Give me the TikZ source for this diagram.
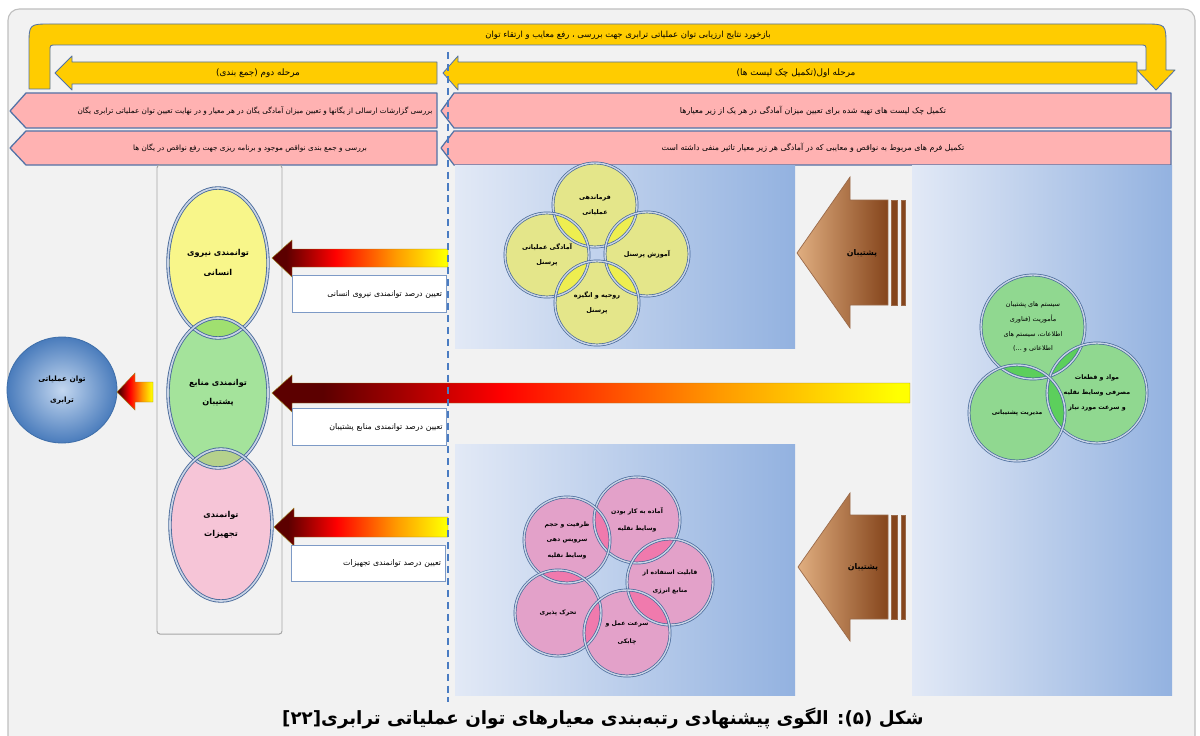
\documentclass[tikz,border=0pt]{standalone}
\usepackage{fontspec}
\newfontfamily\arabicfont[Script=Arabic]{DejaVu Sans}
\TeXXeTstate=1
\usetikzlibrary{shapes.geometric}

\definecolor{pagebg}{HTML}{F2F2F2}
\definecolor{framegray}{HTML}{BFBFBF}
\definecolor{bandyellow}{HTML}{FFCC00}
\definecolor{shapeedge}{HTML}{5272A6}
\definecolor{rowpink}{HTML}{FFB2B2}
\definecolor{panelleft}{HTML}{E2E9F6}
\definecolor{panelright}{HTML}{93B2E0}
\definecolor{dashblue}{HTML}{4A7CC2}
\definecolor{ringblue}{HTML}{466899}
\definecolor{ringgap}{HTML}{C9D4E6}
\definecolor{circyellow}{HTML}{E4E68A}
\definecolor{lensyellow}{HTML}{EEEE50}
\definecolor{circgreen}{HTML}{90D890}
\definecolor{lensgreen}{HTML}{5CCF5C}
\definecolor{circpink}{HTML}{E3A1C9}
\definecolor{lenspink}{HTML}{F07AAD}
\definecolor{elyellow}{HTML}{F8F68A}
\definecolor{elgreen}{HTML}{A4E39B}
\definecolor{elpink}{HTML}{F6C5D7}
\definecolor{lensyg}{HTML}{A0E070}
\definecolor{lensgp}{HTML}{B5D18C}
\definecolor{heatdark}{HTML}{5C0000}
\definecolor{heatred}{HTML}{FF0000}
\definecolor{heatorange}{HTML}{FF9900}
\definecolor{heatyellow}{HTML}{FFFF00}
\definecolor{heatedge}{HTML}{9C8420}
\definecolor{arrowtan}{HTML}{E0AE80}
\definecolor{arrowmid}{HTML}{B87845}
\definecolor{arrowrust}{HTML}{85451C}
\definecolor{arrowedge}{HTML}{9A6A4A}
\definecolor{boxedge}{HTML}{7D9AC6}
\definecolor{skylight}{HTML}{C3D7F0}
\definecolor{skydeep}{HTML}{4A7CBC}
\definecolor{skyedge}{HTML}{3F6FAA}
\definecolor{colgray}{HTML}{A6A6A6}

% dark red -> red -> orange -> yellow, left to right
\pgfdeclarehorizontalshading{heat}{100bp}{color(0bp)=(heatdark); color(25bp)=(heatdark); color(29bp)=(heatdark); color(43bp)=(heatred); color(60bp)=(heatorange); color(74bp)=(heatyellow); color(100bp)=(heatyellow)}

% right-to-left Persian run
\newcommand\fa[1]{\beginR#1\endR}
% fill the part of one circle lying inside another
\newcommand\lensfill[5]{\begin{scope}\clip (#1) circle[radius=#2];\fill[#5] (#3) circle[radius=#4];\end{scope}}

\begin{document}
\begin{tikzpicture}[x=0.025cm,y=-0.025cm,
  band/.style={fill=bandyellow, draw=shapeedge, line width=0.6pt, line join=round},
  row/.style={fill=rowpink, draw=shapeedge, line width=0.9pt, line join=round},
  lbl/.style={font=\arabicfont\fontsize{5.6}{7}\selectfont, inner sep=0pt},
  ring/.style={circle, draw=ringblue, line width=0.5pt, double=ringgap, double distance=1pt,
    inner sep=0pt, align=center, minimum size=2.1cm},
  smallfa/.style={font=\arabicfont\bfseries\fontsize{4.6}{10.5}\selectfont},
  pinkfa/.style={font=\arabicfont\bfseries\fontsize{4.4}{12.5}\selectfont},
  oval/.style={ellipse, draw=ringblue, line width=0.6pt, double=ringgap, double distance=1.2pt,
    inner sep=0pt, align=center, minimum width=2.5cm, minimum height=3.75cm,
    font=\arabicfont\bfseries\fontsize{5.8}{14}\selectfont},
  tbox/.style={draw=boxedge, fill=white, line width=0.6pt, minimum width=3.85cm, minimum height=0.92cm,
    text width=3.65cm, inner xsep=0.1cm, align=right, font=\arabicfont\fontsize{5.6}{7}\selectfont},
  panel/.style={left color=panelleft, right color=panelright},
  heatarrow/.style={shading=heat, draw=heatedge, line width=0.3pt},
  brownarrow/.style={left color=arrowtan, middle color=arrowmid, right color=arrowrust, draw=arrowedge, line width=0.5pt},
  stripe/.style={fill=arrowrust, draw=arrowedge, line width=0.4pt},
  dashline/.style={draw=dashblue, line width=1pt, dash pattern=on 5pt off 3.5pt}
]
\useasboundingbox (0,0) rectangle (1200,735);
\fill[white] (0,0) rectangle (1200,735);
\draw[fill=pagebg, draw=framegray, line width=0.8pt, rounded corners=8pt] (8,9) rectangle (1195,770);

% feedback band bending down on the right
\draw[band] (29,89) -- (29,46) .. controls (29,24) .. (51,24) -- (1144,24)
  .. controls (1166,24) .. (1166,46) -- (1166,70) -- (1175,70) -- (1156,90) -- (1137,70) -- (1146,70)
  -- (1146,51) .. controls (1146,45) .. (1140,45) -- (56,45) .. controls (50,45) .. (50,51) -- (50,89) -- cycle;
\node[lbl, font=\arabicfont\fontsize{6}{7}\selectfont] (feedback) at (628,35) {\fa{بازخورد نتایج ارزیابی توان عملیاتی ترابری جهت بررسی ، رفع معایب و ارتقاء توان}};

% stage arrows
\draw[band] (443,73) -- (458,56) -- (458,62) -- (1137,62) -- (1137,84) -- (458,84) -- (458,90) -- cycle;
\node[lbl, font=\arabicfont\fontsize{6.3}{7}\selectfont] (stage1) at (796,73) {\fa{مرحله اول(تکمیل چک لیست ها)}};
\draw[band] (55,73) -- (72,56) -- (72,62) -- (437,62) -- (437,84) -- (72,84) -- (72,90) -- cycle;
\node[lbl, font=\arabicfont\fontsize{6.3}{7}\selectfont] (stage2) at (258,73) {\fa{مرحله دوم (جمع بندی)}};

% task rows
\draw[row] (441,111) -- (454,93) -- (1171,93) -- (1171,128) -- (454,128) -- cycle;
\node[lbl] (task1) at (813,111) {\fa{تکمیل چک لیست های تهیه شده برای تعیین میزان آمادگی در هر یک از زیر معیارها}};
\draw[row] (441,148) -- (454,131) -- (1171,131) -- (1171,165) -- (454,165) -- cycle;
\node[lbl] (task2) at (813,148) {\fa{تکمیل فرم های مربوط به نواقص و معایبی که در آمادگی هر زیر معیار تاثیر منفی داشته است}};
\draw[row] (10,111) -- (26,93) -- (437,93) -- (437,128) -- (26,128) -- cycle;
\node[lbl, font=\arabicfont\fontsize{5.2}{7}\selectfont] (task3) at (255,111) {\fa{بررسی گزارشات ارسالی از یگانها و تعیین میزان آمادگی یگان در هر معیار و در نهایت تعیین توان عملیاتی ترابری یگان}};
\draw[row] (10,148) -- (26,131) -- (437,131) -- (437,165) -- (26,165) -- cycle;
\node[lbl, font=\arabicfont\fontsize{5.2}{7}\selectfont] (task4) at (250,148) {\fa{بررسی و جمع بندی نواقص موجود و برنامه ریزی جهت رفع نواقص در یگان ها}};

% column holding the three capability ovals
\draw[draw=colgray, line width=0.7pt, rounded corners=2pt] (157,165) rectangle (282,634);

% shaded panels
\shade[panel] (455,165) rectangle (795,348);
\shade[panel] (455,444) rectangle (795,695);
\shade[panel] (912,165) rectangle (1172,695);

% personnel circles
\coordinate (yT) at (595,205); \coordinate (yL) at (547,255);
\coordinate (yR) at (647,254); \coordinate (yB) at (597,303);
\foreach \c in {yT,yL,yR,yB} \fill[circyellow] (\c) circle[radius=42];
\lensfill{yT}{42}{yL}{42}{lensyellow}
\lensfill{yT}{42}{yR}{42}{lensyellow}
\lensfill{yB}{42}{yL}{42}{lensyellow}
\lensfill{yB}{42}{yR}{42}{lensyellow}
\node[ring, smallfa] (command) at (yT) {\fa{فرماندهی}\\\fa{عملیاتی}};
\node[ring, smallfa] (readiness) at (yL) {\fa{آمادگی عملیاتی}\\\fa{پرسنل}};
\node[ring, smallfa] (training) at (yR) {\fa{آموزش پرسنل}};
\node[ring, smallfa] (morale) at (yB) {\fa{روحیه و انگیزه}\\\fa{پرسنل}};

% equipment circles
\coordinate (pA) at (637,520); \coordinate (pB) at (567,540); \coordinate (pC) at (670,582);
\coordinate (pD) at (558,613); \coordinate (pE) at (627,633);
\foreach \c in {pA,pB,pC,pD,pE} \fill[circpink] (\c) circle[radius=43];
\lensfill{pA}{43}{pB}{43}{lenspink}
\lensfill{pA}{43}{pC}{43}{lenspink}
\lensfill{pB}{43}{pD}{43}{lenspink}
\lensfill{pC}{43}{pE}{43}{lenspink}
\lensfill{pD}{43}{pE}{43}{lenspink}
\node[ring, pinkfa, minimum size=2.15cm] (ready) at (pA) {\fa{آماده به کار بودن}\\\fa{وسایط نقلیه}};
\node[ring, minimum size=2.15cm, font=\arabicfont\bfseries\fontsize{4.4}{11}\selectfont] (capacity) at (pB) {\fa{ظرفیت و حجم}\\\fa{سرویس دهی}\\\fa{وسایط نقلیه}};
\node[ring, pinkfa, minimum size=2.15cm] (energy) at (pC) {\fa{قابلیت استفاده از}\\\fa{منابع انرژی}};
\node[ring, pinkfa, minimum size=2.15cm] (mobility) at (pD) {\fa{تحرک پذیری}};
\node[ring, pinkfa, minimum size=2.15cm] (agility) at (pE) {\fa{سرعت عمل و}\\\fa{چابکی}};

% support circles
\coordinate (gT) at (1033,327); \coordinate (gR) at (1097,393); \coordinate (gB) at (1017,413);
\fill[circgreen] (gT) circle[radius=52];
\fill[circgreen] (gR) circle[radius=50];
\fill[circgreen] (gB) circle[radius=48];
\lensfill{gT}{52}{gR}{50}{lensgreen}
\lensfill{gT}{52}{gB}{48}{lensgreen}
\lensfill{gR}{50}{gB}{48}{lensgreen}
\node[ring, minimum size=2.6cm, font=\arabicfont\fontsize{4.6}{10.5}\selectfont] (systems) at (gT) {\fa{سیستم های پشتیبان}\\\fa{مأموریت (فناوری}\\\fa{اطلاعات، سیستم های}\\\fa{اطلاعاتی و ...)}};
\node[ring, minimum size=2.5cm, font=\arabicfont\bfseries\fontsize{4.5}{10.5}\selectfont] (parts) at (gR) {\fa{مواد و قطعات}\\\fa{مصرفی وسایط نقلیه}\\\fa{و سرعت مورد نیاز}};
\node[ring, minimum size=2.4cm, font=\arabicfont\bfseries\fontsize{4.3}{10.5}\selectfont] (management) at (gB) {\fa{مدیریت پشتیبانی}};

% support arrows
\shadedraw[brownarrow] (797,253) -- (850,177) -- (850,200) -- (888,200) -- (888,305) -- (850,305) -- (850,328) -- cycle;
\draw[stripe] (891,200) rectangle (897,305);
\draw[stripe] (901,200) rectangle (905,305);
\node[lbl, font=\arabicfont\bfseries\fontsize{5.6}{6}\selectfont] (support1) at (862,253) {\fa{پشتیبان}};
\shadedraw[brownarrow] (798,567) -- (850,493) -- (850,515) -- (888,515) -- (888,619) -- (850,619) -- (850,641) -- cycle;
\draw[stripe] (891,515) rectangle (897,619);
\draw[stripe] (901,515) rectangle (905,619);
\node[lbl, font=\arabicfont\bfseries\fontsize{5.6}{6}\selectfont] (support2) at (863,567) {\fa{پشتیبان}};

% capability ovals
\fill[elyellow] (218,263) ellipse[x radius=50, y radius=75];
\fill[elgreen] (218,393) ellipse[x radius=50, y radius=75];
\fill[elpink] (221,525) ellipse[x radius=51, y radius=76];
\begin{scope}\clip (218,263) ellipse[x radius=50, y radius=75];\fill[lensyg] (218,393) ellipse[x radius=50, y radius=75];\end{scope}
\begin{scope}\clip (218,393) ellipse[x radius=50, y radius=75];\fill[lensgp] (221,525) ellipse[x radius=51, y radius=76];\end{scope}
\node[oval] (human) at (218,263) {\fa{توانمندی نیروی}\\\fa{انسانی}};
\node[oval] (resources) at (218,393) {\fa{توانمندی منابع}\\\fa{پشتیبان}};
\node[oval, minimum width=2.55cm, minimum height=3.8cm] (equipment) at (221,525) {\fa{توانمندی}\\\fa{تجهیزات}};

% heat arrows into the ovals
\shadedraw[heatarrow] (272,258) -- (292,240) -- (292,249) -- (448,249) -- (448,267) -- (292,267) -- (292,277) -- cycle;
\shadedraw[heatarrow] (272,393) -- (292,375) -- (292,383) -- (910,383) -- (910,403) -- (292,403) -- (292,412) -- cycle;
\shadedraw[heatarrow] (274,527) -- (294,508) -- (294,517) -- (448,517) -- (448,537) -- (294,537) -- (294,546) -- cycle;

% percentage boxes
\node[tbox] (pct1) at (369,294) {\fa{تعیین درصد توانمندی نیروی انسانی}};
\node[tbox] (pct2) at (369.5,427) {\fa{تعیین درصد توانمندی منابع پشتیبان}};
\node[tbox] (pct3) at (368,563.5) {\fa{تعیین درصد توانمندی تجهیزات}};

% overall result
\node[ellipse, minimum width=2.75cm, minimum height=2.65cm, inner sep=0pt, inner color=skylight, outer color=skydeep,
  draw=skyedge, line width=0.6pt, align=center, font=\arabicfont\bfseries\fontsize{5.2}{15}\selectfont] (power) at (62,390)
  {\fa{توان عملیاتی}\\\fa{ترابری}};
\shadedraw[heatarrow] (117,392) -- (135,373) -- (135,382) -- (153,382) -- (153,402) -- (135,402) -- (135,410) -- cycle;

% stage divider
\draw[dashline] (448,52) -- (448,702);

% caption
\node[font=\arabicfont\bfseries\fontsize{13}{15}\selectfont, inner sep=0pt] (caption) at (603,718)
  {\fa{شکل (۵): الگوی پیشنهادی رتبه‌بندی معیارهای توان عملیاتی ترابری[۲۲]}};
\end{tikzpicture}
\end{document}
